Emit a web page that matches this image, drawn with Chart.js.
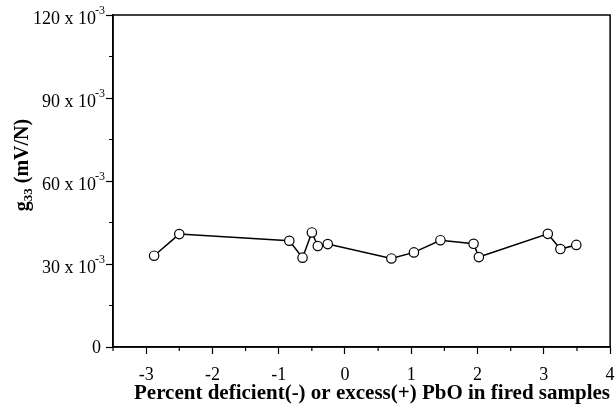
<!DOCTYPE html>
<html>
<head>
<meta charset="utf-8">
<script src="https://cdn.jsdelivr.net/npm/chart.js@4/dist/chart.umd.min.js"></script>
<style>
  html, body { margin: 0; padding: 0; background: #fff; }
  #wrap { width: 616px; height: 410px; position: relative; }
</style>
</head>
<body>
<div id="wrap"><canvas id="chartG33"></canvas></div>
<script>
'use strict';

// ─── DATA ────────────────────────────────────────────────────

const PBO_PERCENT = [-2.88, -2.50, -0.84, -0.64, -0.50, -0.41, -0.26, 0.70, 1.04, 1.44, 1.94, 2.02, 3.06, 3.25, 3.49];
const G33_VALUES  = [33.0, 40.8, 38.4, 32.3, 41.4, 36.5, 37.2, 32.0, 34.2, 38.6, 37.3, 32.5, 40.9, 35.4, 36.9]; // x 10^-3

const X_TICKS = [-3, -2, -1, 0, 1, 2, 3, 4];
const X_MINOR = [-3.5, -2.5, -1.5, -0.5, 0.5, 1.5, 2.5, 3.5];
const Y_TICKS = [0, 30, 60, 90, 120];
const Y_MINOR = [15, 45, 75, 105];

const X_TITLE = 'Percent deficient(-) or excess(+) PbO in fired samples';

const SERIF = '"Liberation Serif", "Times New Roman", serif';

// ─── PLUGINS ─────────────────────────────────────────────────

const framePlugin = {
  id: 'frame',
  afterDraw(chart) {
    const { ctx, chartArea: a, scales } = chart;
    ctx.save();
    ctx.strokeStyle = '#000';
    ctx.lineWidth = 1.5;
    ctx.strokeRect(a.left, a.top, a.right - a.left, a.bottom - a.top);

    // minor ticks
    ctx.lineWidth = 1.2;
    ctx.beginPath();
    X_MINOR.forEach(v => {
      const px = scales.x.getPixelForValue(v);
      ctx.moveTo(px, a.bottom);
      ctx.lineTo(px, a.bottom + 4);
    });
    Y_MINOR.forEach(v => {
      const py = scales.y.getPixelForValue(v);
      ctx.moveTo(a.left, py);
      ctx.lineTo(a.left - 4, py);
    });
    ctx.stroke();

    // y tick labels with superscript exponent
    ctx.fillStyle = '#000';
    ctx.textAlign = 'right';
    ctx.textBaseline = 'alphabetic';
    const right = a.left - 8;
    Y_TICKS.forEach(v => {
      const py = scales.y.getPixelForValue(v);
      if (v === 0) {
        ctx.font = '18px ' + SERIF;
        ctx.fillText('0', right - 4, py + 6);
        return;
      }
      ctx.font = '12px ' + SERIF;
      const sup = '-3';
      const supW = ctx.measureText(sup).width;
      ctx.fillText(sup, right, py - 1);
      ctx.font = '18px ' + SERIF;
      ctx.fillText(v + ' x 10', right - supW + 1, py + 9);
    });

    // x title
    ctx.font = 'bold 21px ' + SERIF;
    ctx.textAlign = 'center';
    ctx.fillText(X_TITLE, 372, 399);

    // y title: g33 (mV/N), rotated
    ctx.translate(28, 165);
    ctx.rotate(-Math.PI / 2);
    ctx.textAlign = 'left';
    const bigFont = 'bold 20px ' + SERIF;
    const subFont = 'bold 13px ' + SERIF;
    ctx.font = bigFont;
    const gW = ctx.measureText('g').width;
    const restW = ctx.measureText(' (mV/N)').width;
    ctx.font = subFont;
    const subW = ctx.measureText('33').width;
    const x0 = -(gW + subW + restW) / 2;
    ctx.font = bigFont;
    ctx.fillText('g', x0, 0);
    ctx.font = subFont;
    ctx.fillText('33', x0 + gW, 4);
    ctx.font = bigFont;
    ctx.fillText(' (mV/N)', x0 + gW + subW, 0);
    ctx.restore();
  }
};

// ─── CHART ───────────────────────────────────────────────────

const points = PBO_PERCENT.map((x, i) => ({ x, y: G33_VALUES[i] }));

new Chart(document.getElementById('chartG33'), {
  type: 'scatter',
  data: {
    datasets: [{
      data: points,
      showLine: true,
      borderColor: '#000',
      borderWidth: 1.5,
      pointBackgroundColor: '#fff',
      pointBorderColor: '#000',
      pointBorderWidth: 1.2,
      pointRadius: 4.7,
      tension: 0
    }]
  },
  options: {
    responsive: true,
    maintainAspectRatio: false,
    animation: false,
    layout: { padding: { top: 15, right: 5, left: 0, bottom: 0 } },
    plugins: {
      legend: { display: false },
      tooltip: { enabled: false }
    },
    scales: {
      x: {
        type: 'linear',
        min: -3.5,
        max: 4,
        afterBuildTicks: s => { s.ticks = X_TICKS.map(v => ({ value: v })); },
        afterFit: s => { s.height = 63; s.paddingRight = 0; s.paddingLeft = 0; },
        border: { display: true, color: '#000', width: 1.5 },
        grid: { drawOnChartArea: false, drawTicks: true, tickLength: 7, tickColor: '#000', tickWidth: 1.2 },
        ticks: {
          color: '#000',
          padding: 10,
          maxRotation: 0,
          font: { family: SERIF, size: 18 },
          callback: v => String(v)
        }
      },
      y: {
        type: 'linear',
        min: 0,
        max: 120,
        afterBuildTicks: s => { s.ticks = Y_TICKS.map(v => ({ value: v })); },
        afterFit: s => { s.width = 113; s.paddingTop = 0; s.paddingBottom = 0; },
        border: { display: true, color: '#000', width: 1.5 },
        grid: { drawOnChartArea: false, drawTicks: true, tickLength: 7, tickColor: '#000', tickWidth: 1.2 },
        ticks: { display: false }
      }
    }
  },
  plugins: [framePlugin]
});
</script>
</body>
</html>
